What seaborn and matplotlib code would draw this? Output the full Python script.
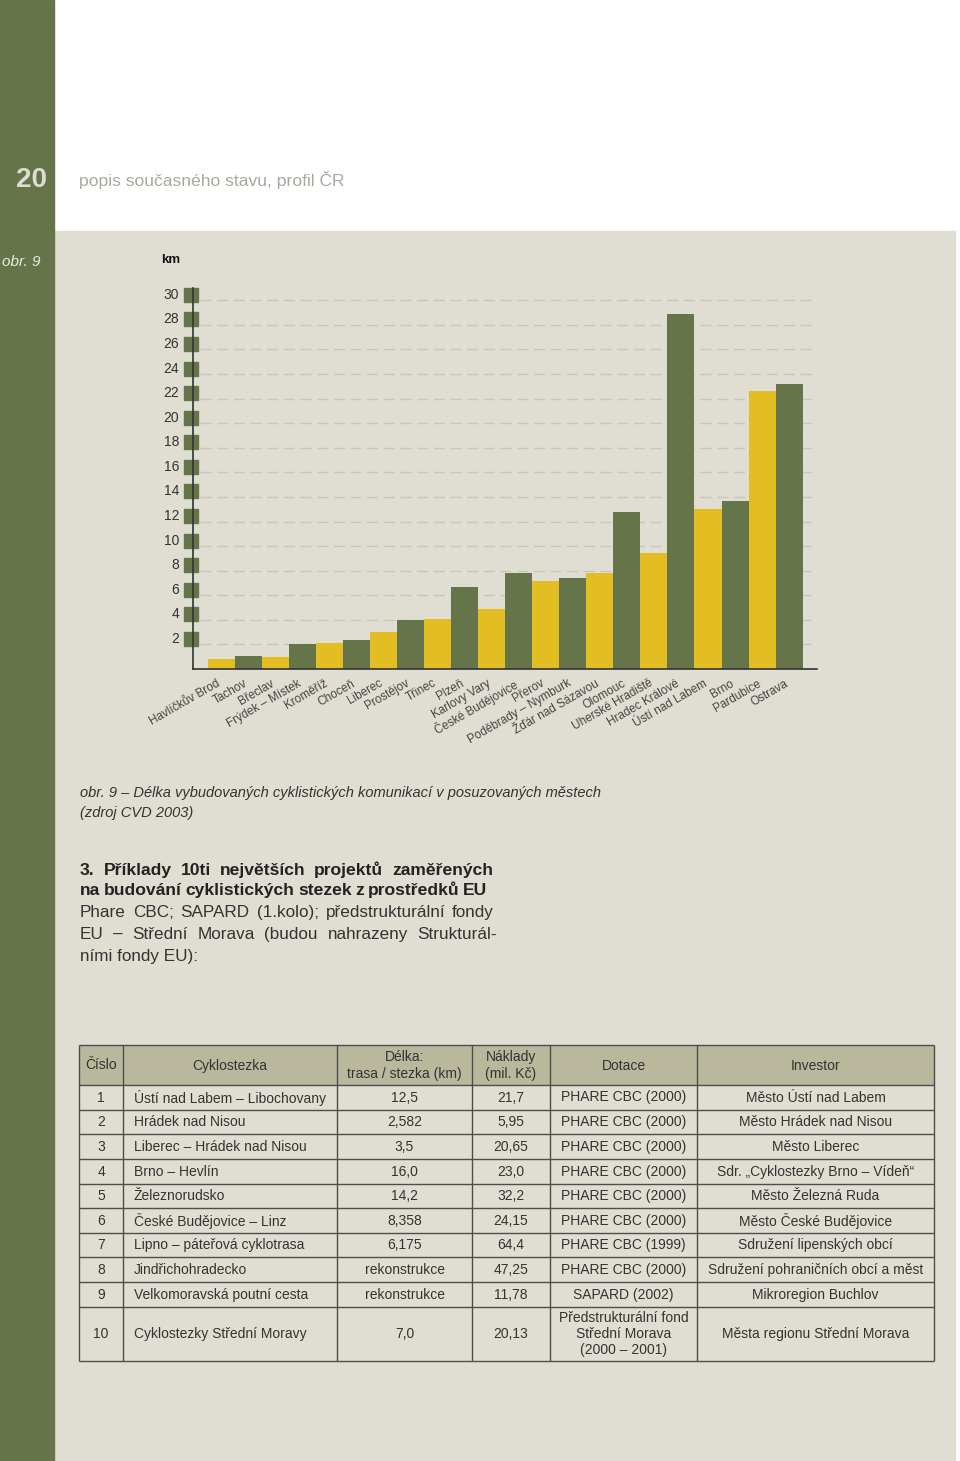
import matplotlib
matplotlib.use("Agg")
import matplotlib.pyplot as plt
import matplotlib.transforms as mtransforms
from matplotlib.patches import Rectangle
import pandas as pd
import seaborn as sns

# --- chart data (km of built cycle routes) ---
cities = ["Havlíčkův Brod", "Tachov", "Břeclav", "Frýdek – Místek", "Kroměříž",
          "Choceň", "Liberec", "Prostějov", "Třinec", "Plzeň", "Karlovy Vary",
          "České Budějovice", "Přerov", "Poděbrady – Nymburk", "Žďár nad Sázavou",
          "Olomouc", "Uherské Hradiště", "Hradec Králové", "Ústí nad Labem",
          "Brno", "Pardubice", "Ostrava"]
km = [0.8, 1.05, 1.0, 2.0, 2.1, 2.35, 3.0, 4.0, 4.1, 6.7, 4.9,
      7.8, 7.2, 7.4, 7.8, 12.75, 9.4, 28.9, 13.0, 13.7, 22.6, 23.2]
y_ticks = [2, 4, 6, 8, 10, 12, 14, 16, 18, 20, 22, 24, 26, 28, 30]

# --- table data ---
tab_header = ["Číslo", "Cyklostezka", "Délka:\ntrasa / stezka (km)",
              "Náklady\n(mil. Kč)", "Dotace", "Investor"]
tab_cislo = ["1", "2", "3", "4", "5", "6", "7", "8", "9", "10"]
tab_stezka = ["Ústí nad Labem – Libochovany", "Hrádek nad Nisou",
              "Liberec – Hrádek nad Nisou", "Brno – Hevlín", "Železnorudsko",
              "České Budějovice – Linz", "Lipno – páteřová cyklotrasa",
              "Jindřichohradecko", "Velkomoravská poutní cesta",
              "Cyklostezky Střední Moravy"]
tab_delka = ["12,5", "2,582", "3,5", "16,0", "14,2", "8,358", "6,175",
             "rekonstrukce", "rekonstrukce", "7,0"]
tab_naklady = ["21,7", "5,95", "20,65", "23,0", "32,2", "24,15", "64,4",
               "47,25", "11,78", "20,13"]
tab_dotace = ["PHARE CBC (2000)", "PHARE CBC (2000)", "PHARE CBC (2000)",
              "PHARE CBC (2000)", "PHARE CBC (2000)", "PHARE CBC (2000)",
              "PHARE CBC (1999)", "PHARE CBC (2000)", "SAPARD (2002)",
              "Předstrukturální fond\nStřední Morava\n(2000 – 2001)"]
tab_investor = ["Město Ústí nad Labem", "Město Hrádek nad Nisou", "Město Liberec",
                "Sdr. „Cyklostezky Brno – Vídeň“", "Město Železná Ruda",
                "Město České Budějovice", "Sdružení lipenských obcí",
                "Sdružení pohraničních obcí a měst", "Mikroregion Buchlov",
                "Města regionu Střední Morava"]

GREEN = "#66744a"
YELLOW = "#e3be22"
BEIGE = "#e0ded3"
HEAD = "#b9b79c"
TXT = "#333333"
W, H = 960, 1461

sns.set_theme(style="white")
plt.rcParams["font.family"] = ["Liberation Sans", "DejaVu Sans"]

fig = plt.figure(figsize=(W / 100, H / 100), dpi=100)

# page background in pixel coordinates
bg = fig.add_axes([0, 0, 1, 1])
bg.set_xlim(0, W)
bg.set_ylim(H, 0)
bg.axis("off")
bg.add_patch(Rectangle((0, 0), W, H, color="white"))
bg.add_patch(Rectangle((54, 231), 901, H - 231, color=BEIGE))
bg.add_patch(Rectangle((0, 0), 54, H, color=GREEN))

bg.text(47, 180, "20", ha="right", va="center", fontsize=20,
        fontweight="bold", color="#dcdcd2")
bg.text(79, 180, "popis současného stavu, profil ČR", va="center",
        fontsize=12.6, color="#a9a99f")
bg.text(40, 262, "obr. 9", ha="right", va="center", style="italic",
        fontsize=11, color="#ecebe0")
bg.text(161, 260, "km", va="center", fontweight="bold", fontsize=9.5,
        color="#111111")

# --- bar chart ---
ax = fig.add_axes([193 / W, 1 - 669 / H, (817 - 193) / W, (669 - 288) / H])
ax.set_facecolor("none")
df = pd.DataFrame({"mesto": cities, "km": km})
colors = [YELLOW if i % 2 == 0 else GREEN for i in range(len(cities))]
sns.barplot(data=df, x="mesto", y="km", hue="mesto", palette=colors,
            width=1.0, saturation=1, linewidth=0, legend=False, ax=ax, zorder=2)
ax.set_xlim(-1.043, 22.03)
ax.set_ylim(0, 31)
ax.set_xlabel("")
ax.set_ylabel("")

for t in y_ticks:
    ax.axhline(t, xmin=(200 - 193) / 624, xmax=1, color="#c9c7bc", lw=1,
               ls=(0, (8, 4)), zorder=0)

ax.set_yticks([])
sq = mtransforms.blended_transform_factory(ax.transAxes, ax.transData) + \
    mtransforms.ScaledTranslation(0, 5.5 / 100, fig.dpi_scale_trans)
ax.plot([-0.0035] * len(y_ticks), y_ticks, marker="s", ms=9.6, color=GREEN,
        ls="none", clip_on=False, transform=sq, zorder=3)
for t in y_ticks:
    ax.text(-0.0224, t, str(t), ha="right", va="center", fontsize=10,
            color=TXT, transform=sq)

ax.set_xticks(range(len(cities)))
ax.set_xticklabels(cities, rotation=30, ha="right", rotation_mode="anchor",
                   fontsize=8.5, color="#444444")
ax.tick_params(axis="x", length=0, pad=6)
shift = mtransforms.ScaledTranslation(-5 / 100, 0, fig.dpi_scale_trans)
for lbl in ax.get_xticklabels():
    lbl.set_transform(lbl.get_transform() + shift)
for s in ["top", "right"]:
    ax.spines[s].set_visible(False)
for s in ["left", "bottom"]:
    ax.spines[s].set_color("#333333")
    ax.spines[s].set_linewidth(1.2)
    ax.spines[s].set_zorder(4)

# --- caption and paragraph ---
bg.text(80, 797, "obr. 9 – Délka vybudovaných cyklistických komunikací v posuzovaných městech",
        va="baseline", style="italic", fontsize=10.5, color=TXT)
bg.text(80, 817, "(zdroj CVD 2003)", va="baseline", style="italic",
        fontsize=10.5, color=TXT)

renderer = fig.canvas.get_renderer()


def justify(line, x0, x1, y, fontsize, **kw):
    # spread words over x0..x1; shrink the font if the words do not fit
    words = line.split(" ")
    while True:
        texts = [bg.text(0, y, w, va="baseline", fontsize=fontsize, **kw)
                 for w in words]
        widths = [t.get_window_extent(renderer).width for t in texts]
        gap = (x1 - x0 - sum(widths)) / max(len(words) - 1, 1)
        if gap >= 3.5 or fontsize < 9:
            break
        for t in texts:
            t.remove()
        fontsize -= 0.1
    x = x0
    for t, w in zip(texts, widths):
        t.set_x(x)
        x += w + gap


bold = dict(fontweight="bold", color="#222222")
reg = dict(color=TXT)
justify("3. Příklady 10ti největších projektů zaměřených", 80, 493, 875, 12.6, **bold)
justify("na budování cyklistických stezek z prostředků EU", 80, 487, 895, 12.6, **bold)
justify("Phare CBC; SAPARD (1.kolo); předstrukturální fondy", 80, 494, 917, 12.3, **reg)
justify("EU – Střední Morava (budou nahrazeny Strukturál-", 80, 497, 939, 12.3, **reg)
bg.text(80, 961, "ními fondy EU):", va="baseline", fontsize=12.3, **reg)

# --- table ---
col_x = [79, 123, 337, 472, 550, 697, 934]
row_y = [1045, 1084.5, 1109.5, 1134, 1159, 1183.5, 1208, 1232.5, 1257,
         1282, 1306.5, 1360.5]
bg.add_patch(Rectangle((col_x[0], row_y[0]), col_x[-1] - col_x[0],
                       row_y[1] - row_y[0], color=HEAD, lw=0))
bg.hlines(row_y, col_x[0], col_x[-1], color="#4d4d4d", lw=1)
bg.vlines(col_x, row_y[0], row_y[-1], color="#4d4d4d", lw=1)

tsize = 10
hy = (row_y[0] + row_y[1]) / 2
for j, h in enumerate(tab_header):
    if j == 0:
        bg.text(col_x[0] + 6, hy, h, ha="left", va="center", fontsize=tsize, color=TXT)
    else:
        bg.text((col_x[j] + col_x[j + 1]) / 2, hy + 1, h, ha="center", va="center",
                fontsize=tsize, color=TXT, linespacing=1.25)

columns = [tab_cislo, tab_stezka, tab_delka, tab_naklady, tab_dotace, tab_investor]
for i in range(len(tab_cislo)):
    cy = (row_y[i + 1] + row_y[i + 2]) / 2 + 0.5
    for j, col in enumerate(columns):
        if j == 1:
            bg.text(col_x[1] + 11, cy, col[i], ha="left", va="center",
                    fontsize=tsize, color=TXT)
        else:
            bg.text((col_x[j] + col_x[j + 1]) / 2, cy, col[i], ha="center",
                    va="center", fontsize=tsize, color=TXT, linespacing=1.2)

fig.savefig("out.png", dpi=100)
plt.close(fig)
